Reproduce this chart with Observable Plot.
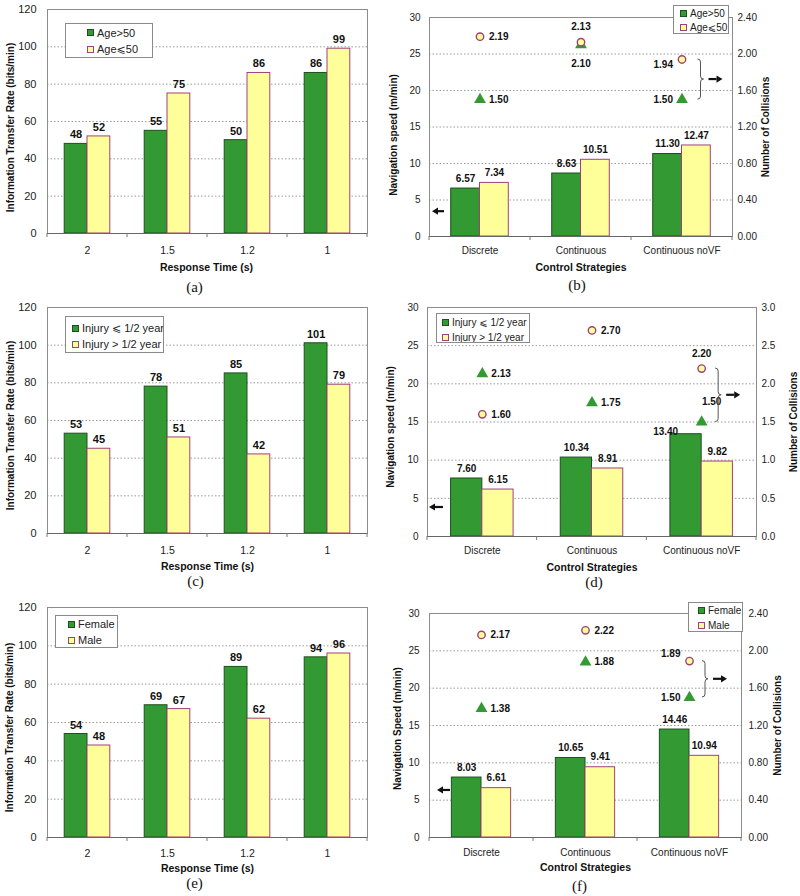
<!DOCTYPE html>
<html><head><meta charset="utf-8">
<script src="https://cdn.jsdelivr.net/npm/d3@7"></script>
<script src="https://cdn.jsdelivr.net/npm/@observablehq/plot@0.6"></script>
<style>
body{margin:0;background:#fff;}
#root{position:relative;width:800px;height:896px;overflow:hidden;background:#fff;font-family:"Liberation Sans",Arial,"DejaVu Sans",sans-serif;}
.panel{position:absolute;}
.panel svg{display:block;overflow:visible;max-width:none;}
.legend{position:absolute;background:#fff;border:1px solid #8a8a8a;box-sizing:border-box;overflow:hidden;white-space:nowrap;color:#222;font-family:"Liberation Sans",Arial,"DejaVu Sans",sans-serif;}
.legend .row{display:flex;align-items:center;}
.legend .sw{display:inline-block;width:7px;height:7px;margin-right:3px;box-sizing:border-box;flex:none;}
</style></head>
<body><div id="root"></div>
<script>
// ---------------- DATA ----------------
const responseTimes = ["2", "1.5", "1.2", "1"];
const strategies = ["Discrete", "Continuous", "Continuous noVF"];

const itrTicks = [0, 20, 40, 60, 80, 100, 120];
const speedTicks = [0, 5, 10, 15, 20, 25, 30];
const collTicks240 = [0, 0.4, 0.8, 1.2, 1.6, 2.0, 2.4];
const collTicks30 = [0, 0.5, 1.0, 1.5, 2.0, 2.5, 3.0];

const titleITR = "Information Transfer Rate (bits/min)";
const titleResponse = "Response Time (s)";
const titleSpeed = "Navigation speed (m/min)";
const titleSpeedF = "Navigation Speed (m/min)";
const titleStrategies = "Control Strategies";
const titleCollisions = "Number of Collisions";

// (a) / (b) age
const ageSeries = ["Age>50", "Age\u2a7d50"];
const itrAgeOver50 = [48, 55, 50, 86];
const itrAgeUnder50 = [52, 75, 86, 99];
const speedAgeOver50 = [6.57, 8.63, 11.30];
const speedAgeUnder50 = [7.34, 10.51, 12.47];
const collAgeOver50 = [1.50, 2.10, 1.50];
const collAgeUnder50 = [2.19, 2.13, 1.94];

// (c) / (d) injury
const injurySeries = ["Injury \u2a7d 1/2 year", "Injury > 1/2 year"];
const itrInjuryShort = [53, 78, 85, 101];
const itrInjuryLong = [45, 51, 42, 79];
const speedInjuryShort = [7.60, 10.34, 13.40];
const speedInjuryLong = [6.15, 8.91, 9.82];
const collInjuryShort = [2.13, 1.75, 1.50];
const collInjuryLong = [1.60, 2.70, 2.20];

// (e) / (f) gender
const genderSeries = ["Female", "Male"];
const itrFemale = [54, 69, 89, 94];
const itrMale = [48, 67, 62, 96];
const speedFemale = [8.03, 10.65, 14.46];
const speedMale = [6.61, 9.41, 10.94];
const collFemale = [1.38, 1.88, 1.50];
const collMale = [2.17, 2.22, 1.89];

// ---------------- STYLE ----------------
const GREEN = "#339933", GREEN_EDGE = "#1e4f1e", YELLOW = "#ffff99", PLUM = "#a0407a";
const FONT = '"Liberation Sans", Arial, "DejaVu Sans", sans-serif';
const R = {dx: 9, dy: 0, anchor: "start"}, Lf = {dx: -9, dy: 0, anchor: "end"};
const UP = {dx: 0, dy: -15, anchor: "middle"}, DN = {dx: 0, dy: 19, anchor: "middle"};

const panels = [
  {id: "a", cats: responseTimes, series: ageSeries, vals: [itrAgeOver50, itrAgeUnder50],
   yDomain: [0, 120], yTicks: itrTicks, xTitle: titleResponse, yTitle: titleITR, caption: "(a)", fmt: d3.format("d"),
   L: {left: 0, top: 0, width: 380, height: 300, m: [9, 13, 67, 47], pad: 0.43, yPad: 11, xPad: 13, tickFont: 11, catFont: 10.5,
       xTitleDx: -1, xTitleDy: 34, yTitleDx: -37, yTitleDy: 6, capDx: -13, capDy: 54, valueFont: 11, valueDy: -9},
   legend: {left: 65, top: 23, w: 88, h: 35, font: 11, padLeft: 21, padTop: 0, rowH: 17}},
  {id: "b", cats: strategies, series: ageSeries, vals: [speedAgeOver50, speedAgeUnder50],
   yDomain: [0, 30], yTicks: speedTicks, xTitle: titleStrategies, yTitle: titleSpeed, caption: "(b)", fmt: d3.format(".2f"),
   coll: {vals: [collAgeOver50, collAgeUnder50], domain: [0, 2.4], ticks: collTicks240, fmt: d3.format(".2f"), title: titleCollisions,
          place: [[R, DN, Lf], [R, UP, {dx: -9, dy: 5, anchor: "end"}]], braceCat: "Continuous noVF"},
   L: {left: 380, top: 0, width: 420, height: 300, m: [17, 68, 64, 49], pad: 0.43, yPad: 9, xPad: 10, tickFont: 10, catFont: 10,
       xTitleDx: 0, xTitleDy: 31, yTitleDx: -36, yTitleDy: 8, capDx: -4, capDy: 49, valueFont: 10, valueDy: -10,
       rPad: 5, rTitleDx: 33, braceDx: 16, leftArrow: {at: 3.4, x1: 3, x2: 15}},
   legend: {left: 673, top: 5, w: 56, h: 29, font: 10, padLeft: 6, padTop: 0, rowH: 14.5}},
  {id: "c", cats: responseTimes, series: injurySeries, vals: [itrInjuryShort, itrInjuryLong],
   yDomain: [0, 120], yTicks: itrTicks, xTitle: titleResponse, yTitle: titleITR, caption: "(c)", fmt: d3.format("d"),
   L: {left: 0, top: 300, width: 380, height: 300, m: [7, 13, 67, 47], pad: 0.43, yPad: 11, xPad: 13, tickFont: 11, catFont: 10.5,
       xTitleDx: 0, xTitleDy: 33, yTitleDx: -37, yTitleDy: 5, capDx: -12, capDy: 48, valueFont: 11, valueDy: -9},
   legend: {left: 65, top: 316, w: 99, h: 37, font: 11, padLeft: 6, padTop: 3, rowH: 16}},
  {id: "d", cats: strategies, series: injurySeries, vals: [speedInjuryShort, speedInjuryLong],
   yDomain: [0, 30], yTicks: speedTicks, xTitle: titleStrategies, yTitle: titleSpeed, caption: "(d)", fmt: d3.format(".2f"),
   coll: {vals: [collInjuryShort, collInjuryLong], domain: [0, 3], ticks: collTicks30, fmt: d3.format(".1f"), title: titleCollisions,
          place: [[R, R, {dx: 10, dy: -20, anchor: "middle"}], [R, R, UP]], braceCat: "Continuous noVF"},
   L: {left: 380, top: 300, width: 420, height: 300, m: [7, 44, 64, 47], pad: 0.43, yPad: 9, xPad: 10, tickFont: 10, catFont: 10,
       xTitleDx: 0, xTitleDy: 31, yTitleDx: -37, yTitleDy: 5, capDx: 2, capDy: 46, valueFont: 10, valueDy: -10,
       rPad: 5, rTitleDx: 37, braceDx: 14, leftArrow: {at: 3.8, x1: 2, x2: 16},
       nudge: {"0-2": {dx: -36, dy: -2}}},
   legend: {left: 436, top: 313, w: 94, h: 30, font: 10, padLeft: 5, padTop: 0.5, rowH: 15}},
  {id: "e", cats: responseTimes, series: genderSeries, vals: [itrFemale, itrMale],
   yDomain: [0, 120], yTicks: itrTicks, xTitle: titleResponse, yTitle: titleITR, caption: "(e)", fmt: d3.format("d"),
   L: {left: 0, top: 590, width: 380, height: 306, m: [17, 13, 59, 47], pad: 0.43, yPad: 11, xPad: 12, tickFont: 11, catFont: 10.5,
       xTitleDx: 0, xTitleDy: 31, yTitleDx: -38, yTitleDy: 5, capDx: -13, capDy: 46, valueFont: 11, valueDy: -9},
   legend: {left: 55, top: 615, w: 63, h: 33, font: 11, padLeft: 12, padTop: 0, rowH: 16}},
  {id: "f", cats: strategies, series: genderSeries, vals: [speedFemale, speedMale],
   yDomain: [0, 30], yTicks: speedTicks, xTitle: titleStrategies, yTitle: titleSpeedF, caption: "(f)", fmt: d3.format(".2f"),
   coll: {vals: [collFemale, collMale], domain: [0, 2.4], ticks: collTicks240, fmt: d3.format(".2f"), title: titleCollisions,
          place: [[R, R, Lf], [R, R, {dx: -9, dy: -7, anchor: "end"}]], braceCat: "Continuous noVF"},
   L: {left: 380, top: 590, width: 420, height: 306, m: [23, 59, 59, 49], pad: 0.43, yPad: 10, xPad: 11, tickFont: 10, catFont: 10,
       xTitleDx: 0, xTitleDy: 30, yTitleDx: -32, yTitleDy: 3, capDx: -6, capDy: 49, valueFont: 10, valueDy: -10,
       rPad: 7, rTitleDx: 36, braceDx: 13, leftArrow: {at: 6.3, x1: 8, x2: 21}},
   legend: {left: 688, top: 602, w: 55, h: 30, font: 10, padLeft: 9, padTop: 0, rowH: 15}}
];

// ---------------- HELPERS ----------------
const root = document.getElementById("root");
const baseStyle = {fontFamily: FONT, fontSize: "11px", color: "#222", background: "transparent", overflow: "visible"};

function center(scale, v) {
  return scale(v) + (typeof scale.bandwidth === "function" ? scale.bandwidth() / 2 : 0);
}
function arrow(g, xTail, xHead, y) {
  const dir = Math.sign(xHead - xTail), hl = 6, hw = 3.6;
  g.append("line").attr("x1", xTail).attr("y1", y).attr("x2", xHead - dir * hl).attr("y2", y)
    .attr("stroke", "#111").attr("stroke-width", 2.2);
  g.append("path").attr("d", `M${xHead},${y}L${xHead - dir * hl},${y - hw}L${xHead - dir * hl},${y + hw}Z`).attr("fill", "#111");
}

function place(el, L) {
  const div = document.createElement("div");
  div.className = "panel";
  div.style.left = L.left + "px"; div.style.top = L.top + "px";
  div.style.width = L.width + "px"; div.style.height = L.height + "px";
  div.appendChild(el);
  root.appendChild(div);
}

function build(p) {
  const L = p.L;
  const [mt, mr, mb, ml] = L.m;
  const n = p.cats.length;
  const frameW = L.width - ml - mr;
  const bw = frameW / n * (1 - L.pad);
  const half = bw / 2;
  const xOpts = {type: "band", domain: p.cats, paddingInner: L.pad, paddingOuter: L.pad / 2, round: false, label: null};
  const dims = {width: L.width, height: L.height, marginTop: mt, marginRight: mr, marginBottom: mb, marginLeft: ml};
  const rows = p.vals.map((vs, s) => p.cats.map((c, i) => ({cat: c, value: vs[i], s, i})));

  const valueLabels = rows.flat().map(r => {
    const nd = (L.nudge || {})[`${r.s}-${r.i}`];
    return Plot.text([r], {x: "cat", y: "value", text: d => p.fmt(d.value),
      dx: nd ? nd.dx : (r.s === 0 ? -bw / 4 : bw / 4), dy: nd ? nd.dy : L.valueDy,
      fontWeight: "bold", fontSize: L.valueFont, fill: "#111"});
  });

  const marks = [
    Plot.gridY(p.yTicks.slice(1, -1), {stroke: "#9a9a9a", strokeOpacity: 1, strokeDasharray: "1.5,2"}),
    Plot.barY(rows[0], {x: "cat", y: "value", fill: GREEN, stroke: GREEN_EDGE, strokeWidth: 1, insetLeft: 0, insetRight: half}),
    Plot.barY(rows[1], {x: "cat", y: "value", fill: YELLOW, stroke: PLUM, strokeWidth: 1, insetLeft: half, insetRight: 0}),
    Plot.frame({stroke: "#8c8c8c"}),
    Plot.ruleY([p.yDomain[0]], {stroke: "#666"}),
    Plot.axisY(p.yTicks, {tickSize: 0, tickPadding: L.yPad, fontSize: L.tickFont, label: null}),
    Plot.axisX({tickSize: 0, tickPadding: L.xPad, fontSize: L.catFont, label: null}),
    (index, scales, values, dm) => {
      const g = d3.create("svg:g");
      const step = (dm.width - dm.marginLeft - dm.marginRight) / n;
      const y0 = dm.height - dm.marginBottom;
      for (let i = 0; i <= n; i++) {
        const x = dm.marginLeft + i * step;
        g.append("line").attr("x1", x).attr("x2", x).attr("y1", y0).attr("y2", y0 + 4).attr("stroke", "#777");
      }
      if (L.leftArrow) {
        const y = scales.y(L.leftArrow.at);
        arrow(g, dm.marginLeft + L.leftArrow.x2, dm.marginLeft + L.leftArrow.x1, y);
      }
      return g.node();
    },
    ...valueLabels,
    Plot.text([p.xTitle], {text: d => d, frameAnchor: "bottom", textAnchor: "middle", lineAnchor: "middle",
      dx: L.xTitleDx, dy: L.xTitleDy, fontWeight: "bold", fontSize: 10.5, fill: "#111"}),
    Plot.text([p.yTitle], {text: d => d, frameAnchor: "left", textAnchor: "middle", lineAnchor: "middle", rotate: -90,
      dx: L.yTitleDx, dy: L.yTitleDy, fontWeight: "bold", fontSize: 10, fill: "#111"}),
    Plot.text([p.caption], {text: d => d, frameAnchor: "bottom", textAnchor: "middle", lineAnchor: "middle",
      dx: L.capDx, dy: L.capDy, fontFamily: '"Liberation Serif", "Times New Roman", serif', fontSize: 15, fill: "#111"})
  ];

  const main = Plot.plot({...dims, x: xOpts, y: {domain: p.yDomain, label: null}, style: baseStyle, marks});
  place(main, L);

  if (p.coll) {
    const c = p.coll;
    const crow = c.vals.map((vs, s) => p.cats.map((cat, i) => ({cat, value: vs[i], s, i})));
    const pointLabels = crow.flat().map(r => {
      const pl = c.place[r.s][r.i];
      return Plot.text([r], {x: "cat", y: "value", text: d => d3.format(".2f")(d.value), dx: pl.dx, dy: pl.dy,
        textAnchor: pl.anchor, fontWeight: "bold", fontSize: 10, fill: "#111"});
    });
    const bi = p.cats.indexOf(c.braceCat);
    const vA = c.vals[0][bi], vB = c.vals[1][bi];
    const overlay = Plot.plot({
      ...dims,
      x: {...xOpts, axis: null},
      y: {domain: c.domain, label: null},
      style: baseStyle,
      marks: [
        Plot.axisY(c.ticks, {anchor: "right", tickSize: 0, tickPadding: L.rPad, tickFormat: c.fmt, fontSize: L.tickFont, label: null}),
        Plot.text([c.title], {text: d => d, frameAnchor: "right", textAnchor: "middle", lineAnchor: "middle", rotate: -90,
          dx: L.rTitleDx, fontWeight: "bold", fontSize: 10, fill: "#111"}),
        Plot.dot(crow[0], {x: "cat", y: "value", symbol: "triangle", r: 4.4, fill: GREEN}),
        Plot.dot(crow[1], {x: "cat", y: "value", symbol: "circle", r: 3.7, fill: YELLOW, stroke: PLUM, strokeWidth: 1.4}),
        ...pointLabels,
        (index, scales) => {
          const g = d3.create("svg:g");
          const x0 = center(scales.x, c.braceCat) + L.braceDx;
          const y1 = scales.y(Math.max(vA, vB)), y2 = scales.y(Math.min(vA, vB));
          const w = 3, ym = (y1 + y2) / 2;
          g.append("path")
            .attr("d", `M${x0},${y1}Q${x0 + w},${y1} ${x0 + w},${y1 + w}L${x0 + w},${ym - w}Q${x0 + w},${ym} ${x0 + 2 * w},${ym}Q${x0 + w},${ym} ${x0 + w},${ym + w}L${x0 + w},${y2 - w}Q${x0 + w},${y2} ${x0},${y2}`)
            .attr("fill", "none").attr("stroke", "#555").attr("stroke-width", 1);
          arrow(g, x0 + 11, x0 + 25, ym);
          return g.node();
        }
      ]
    });
    place(overlay, L);
  }

  // legend
  const lg = p.legend;
  const box = document.createElement("div");
  box.className = "legend";
  Object.assign(box.style, {left: lg.left + "px", top: lg.top + "px", width: lg.w + "px", height: lg.h + "px",
    fontSize: lg.font + "px", paddingLeft: lg.padLeft + "px", paddingTop: lg.padTop + "px"});
  p.series.forEach((name, s) => {
    const row = document.createElement("div");
    row.className = "row";
    row.style.height = lg.rowH + "px";
    const sw = document.createElement("span");
    sw.className = "sw";
    sw.style.background = s === 0 ? GREEN : YELLOW;
    sw.style.border = "1px solid " + (s === 0 ? GREEN_EDGE : PLUM);
    row.appendChild(sw);
    row.appendChild(document.createTextNode(name));
    box.appendChild(row);
  });
  root.appendChild(box);
}

panels.forEach(build);
</script></body></html>
